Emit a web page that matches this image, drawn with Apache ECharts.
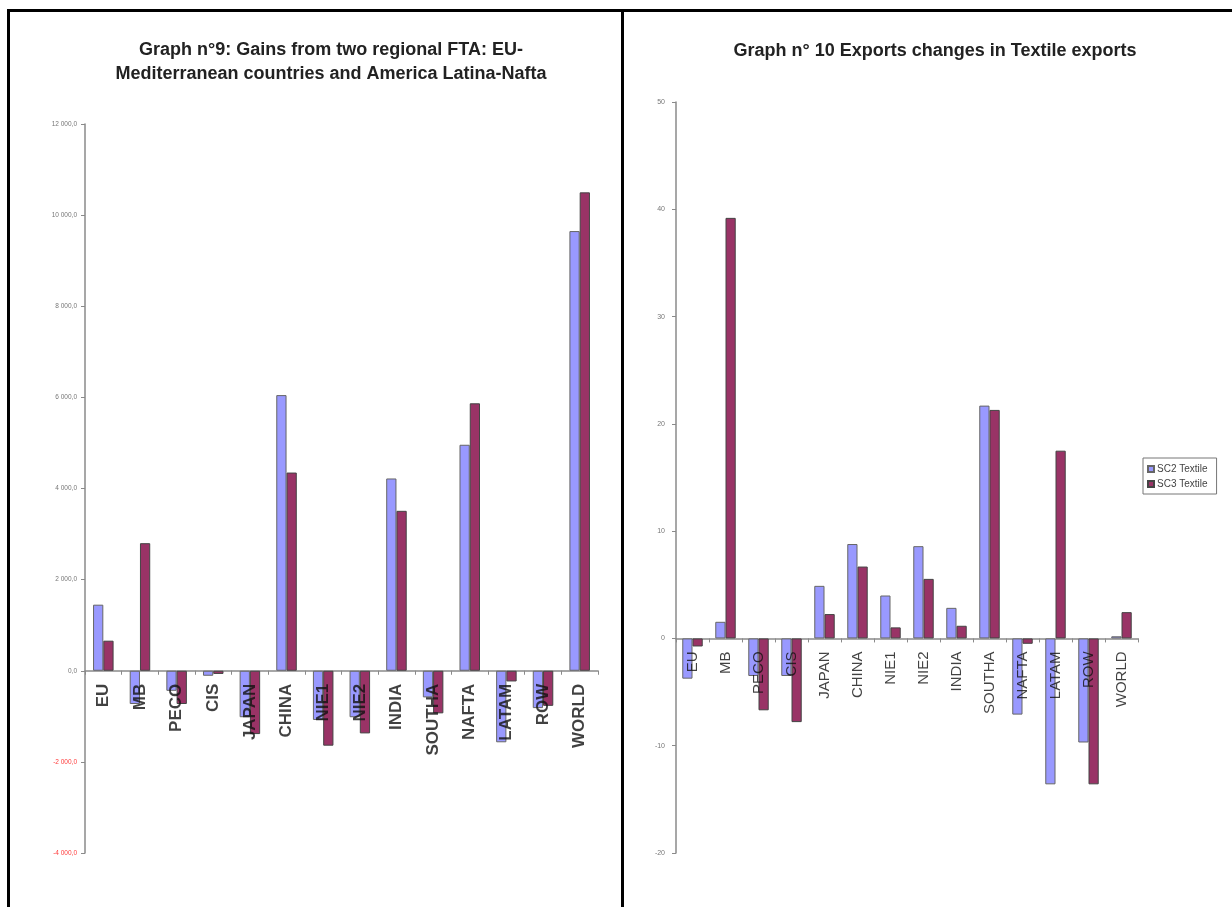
<!DOCTYPE html>
<html>
<head>
<meta charset="utf-8">
<title>Graphs 9 and 10</title>
<script src="https://cdn.jsdelivr.net/npm/echarts@6/dist/echarts.min.js"></script>
<style>
  html, body { margin: 0; padding: 0; background: #ffffff; }
  #chart { width: 1232px; height: 907px; }
</style>
</head>
<body>
<div id="chart"></div>
<script>
// Regions shared by both graphs
const categories = ['EU', 'MB', 'PECO', 'CIS', 'JAPAN', 'CHINA', 'NIE1', 'NIE2', 'INDIA', 'SOUTHA', 'NAFTA', 'LATAM', 'ROW', 'WORLD'];

// Graph 9: gains from the two regional FTAs
const gainsSC2 = [1450, -730, -440, -110, -1020, 6050, -1080, -1020, 4220, -585, 4960, -1570, -820, 9650];
const gainsSC3 = [660, 2800, -730, -70, -1390, 4350, -1645, -1375, 3510, -935, 5870, -235, -770, 10500];

// Graph 10: changes in textile exports
const textileSC2 = [-3.75, 1.55, -3.5, -3.5, 4.9, 8.8, 4.0, 8.6, 2.85, 21.7, -7.1, -13.6, -9.7, 0.2];
const textileSC3 = [-0.75, 39.2, -6.7, -7.8, 2.27, 6.7, 1.03, 5.55, 1.18, 21.3, -0.5, 17.5, -13.6, 2.45];

const seriesNames = ['SC2 Textile', 'SC3 Textile'];
const titles = [
  'Graph n°9: Gains from two regional FTA: EU-\nMediterranean countries and America Latina-Nafta',
  'Graph n° 10 Exports changes in Textile exports'
];

const BLUE = '#9999ff';
const PLUM = '#993366';
const AXIS = '#8a8a8a';
const FONT = 'Liberation Sans, Arial';

// "12 000,0" style labels, negatives in red
function gainsLabel(v) {
  const neg = v < 0;
  const abs = Math.abs(v);
  const s = String(abs).replace(/\B(?=(\d{3})+(?!\d))/g, ' ') + ',0';
  return neg ? '{neg|-' + s + '}' : '{pos|' + s + '}';
}

// Category names hang from the zero line, so they are drawn as labels of
// invisible points sitting on y = 0.
function zeroLineLabels(xIdx, yIdx, fontSize, fontWeight) {
  return {
    type: 'scatter', xAxisIndex: xIdx, yAxisIndex: yIdx,
    symbolSize: 0, silent: true, z: 5,
    data: categories.map(c => [c, 0]),
    label: {
      show: true, position: 'bottom', distance: 13,
      rotate: 90, align: 'right', verticalAlign: 'middle',
      formatter: p => p.data[0],
      fontFamily: FONT, fontSize: fontSize, fontWeight: fontWeight, color: '#111'
    }
  };
}

const chart = echarts.init(document.getElementById('chart'), null, { renderer: 'canvas' });

const catAxisBase = {
  type: 'category',
  data: categories,
  axisLine: { onZero: true, lineStyle: { color: AXIS, width: 1.5 } },
  axisTick: { show: true, length: 4, interval: 0, lineStyle: { color: AXIS } },
  axisLabel: { show: false },
  splitLine: { show: false }
};

chart.setOption({
  animation: false,
  backgroundColor: '#ffffff',
  title: [
    {
      text: titles[0],
      left: 326, top: 33, textAlign: 'center',
      textStyle: { fontFamily: FONT, fontSize: 18, fontWeight: 'bold', color: '#222', lineHeight: 24 }
    },
    {
      text: titles[1],
      left: 930, top: 37, textAlign: 'center',
      textStyle: { fontFamily: FONT, fontSize: 18, fontWeight: 'bold', color: '#222' }
    }
  ],
  legend: {
    data: seriesNames,
    orient: 'vertical',
    left: 1143, top: 458,
    itemWidth: 6, itemHeight: 6, itemGap: 5,
    padding: [6, 9, 5, 4],
    borderColor: '#777', borderWidth: 1,
    icon: 'rect',
    textStyle: { fontFamily: FONT, fontSize: 10, color: '#444', padding: [0, 0, 0, -2] }
  },
  grid: [
    { left: 85, top: 124, width: 513, height: 729 },
    { left: 676, top: 102, width: 462, height: 751 }
  ],
  xAxis: [
    Object.assign({}, catAxisBase, { gridIndex: 0 }),
    Object.assign({}, catAxisBase, { gridIndex: 1 })
  ],
  yAxis: [
    {
      type: 'value', gridIndex: 0,
      min: -4000, max: 12000, interval: 2000,
      axisLine: { show: true, lineStyle: { color: AXIS, width: 1.5 } },
      axisTick: { show: true, length: 4, lineStyle: { color: AXIS } },
      splitLine: { show: false },
      axisLabel: {
        margin: 8,
        formatter: gainsLabel,
        rich: {
          pos: { fontFamily: FONT, fontSize: 6.5, color: '#777' },
          neg: { fontFamily: FONT, fontSize: 6.5, color: '#ff3b3b' }
        }
      }
    },
    {
      type: 'value', gridIndex: 1,
      min: -20, max: 50, interval: 10,
      axisLine: { show: true, lineStyle: { color: AXIS, width: 1.5 } },
      axisTick: { show: true, length: 4, lineStyle: { color: AXIS } },
      splitLine: { show: false },
      axisLabel: { margin: 11, fontFamily: FONT, fontSize: 7, color: '#777' }
    }
  ],
  series: [
    {
      name: 'SC2 gains', type: 'bar', xAxisIndex: 0, yAxisIndex: 0,
      data: gainsSC2, barGap: '0%', barCategoryGap: '44%',
      itemStyle: { color: BLUE, borderColor: '#666', borderWidth: 1 }
    },
    {
      name: 'SC3 gains', type: 'bar', xAxisIndex: 0, yAxisIndex: 0,
      data: gainsSC3, barGap: '0%', barCategoryGap: '44%',
      itemStyle: { color: PLUM, borderColor: '#444', borderWidth: 1 }
    },
    {
      name: seriesNames[0], type: 'bar', xAxisIndex: 1, yAxisIndex: 1,
      data: textileSC2, barGap: '0%', barCategoryGap: '38%',
      itemStyle: { color: BLUE, borderColor: '#666', borderWidth: 1 }
    },
    {
      name: seriesNames[1], type: 'bar', xAxisIndex: 1, yAxisIndex: 1,
      data: textileSC3, barGap: '0%', barCategoryGap: '38%',
      itemStyle: { color: PLUM, borderColor: '#444', borderWidth: 1 }
    },
    zeroLineLabels(0, 0, 17, 'bold'),
    zeroLineLabels(1, 1, 15, 'normal')
  ],
  // Page frame: top rule and the two panel dividers
  graphic: [
    { type: 'rect', shape: { x: 7, y: 9, width: 1225, height: 3 }, style: { fill: '#000' }, silent: true },
    { type: 'rect', shape: { x: 7, y: 9, width: 3, height: 898 }, style: { fill: '#000' }, silent: true },
    { type: 'rect', shape: { x: 621, y: 9, width: 3, height: 898 }, style: { fill: '#000' }, silent: true }
  ]
});
</script>
</body>
</html>
